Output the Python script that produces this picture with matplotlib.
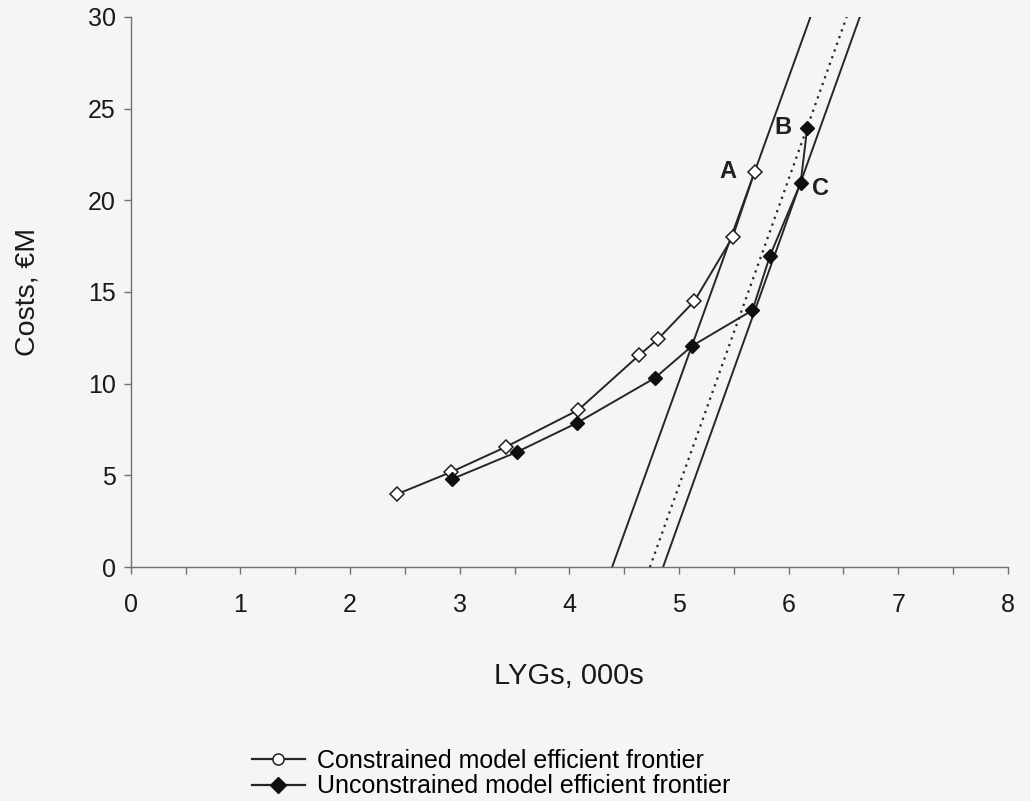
import numpy as np
import matplotlib.pyplot as plt
from matplotlib.lines import Line2D

plt.rcParams['font.family'] = ['Liberation Sans', 'DejaVu Sans']

# efficient frontiers (LYGs in 000s, costs in EUR million)
constrained_lyg = [2.43, 2.92, 3.42, 4.08, 4.64, 4.81, 5.14, 5.49, 5.69]
constrained_cost = [3.98, 5.18, 6.55, 8.56, 11.57, 12.44, 14.5, 18.0, 21.55]

unconstrained_lyg = [2.93, 3.52, 4.07, 4.78, 5.12, 5.67, 5.83, 6.11, 6.17]
unconstrained_cost = [4.8, 6.27, 7.86, 10.31, 12.06, 14.0, 16.97, 20.95, 23.95]

# budget lines: (LYGs at zero cost, LYGs at 30M)
line_left = [4.39, 6.20]
line_dotted = [4.735, 6.53]
line_right = [4.855, 6.65]
line_cost = [0, 30]

# labelled points
point_labels = ['A', 'B', 'C']
point_lyg = [5.69, 6.17, 6.11]
point_cost = [21.55, 23.95, 20.95]

legend_labels = ['Constrained model efficient frontier',
                 'Unconstrained model efficient frontier']

fig = plt.figure(figsize=(10.3, 8.01), dpi=100)
fig.patch.set_facecolor('#f5f5f5')
ax = fig.add_axes([0.127, 0.292, 0.8515, 0.687])
ax.set_facecolor('#f5f5f5')

lc = '#262626'
ax.plot(line_left, line_cost, color=lc, lw=1.4)
ax.plot(line_right, line_cost, color=lc, lw=1.4)
ax.plot(line_dotted, line_cost, color=lc, lw=1.6, ls=(0, (1, 2.2)))

ax.plot(constrained_lyg, constrained_cost, color=lc, lw=1.4, marker='D',
        markersize=7, markerfacecolor='white', markeredgecolor='#202020',
        markeredgewidth=1.1)
ax.plot(unconstrained_lyg, unconstrained_cost, color=lc, lw=1.4, marker='D',
        markersize=7, markerfacecolor='#101010', markeredgecolor='#101010')

offsets = {'A': (-0.32, 0.0), 'B': (-0.30, 0.0), 'C': (0.10, -0.3)}
for lab, x, y in zip(point_labels, point_lyg, point_cost):
    dx, dy = offsets[lab]
    ax.text(x + dx, y + dy, lab, fontsize=17, fontweight='bold',
            color='#202020', va='center', ha='left')

ax.set_xlim(0, 8)
ax.set_ylim(0, 30)
ticks = np.arange(0, 8.01, 0.5)
ax.set_xticks(ticks)
ax.set_xticklabels([str(int(v)) if v == int(v) else '' for v in ticks])
ax.set_yticks(np.arange(0, 31, 5))
for s in ['top', 'right']:
    ax.spines[s].set_visible(False)
for s in ['left', 'bottom']:
    ax.spines[s].set_color('#707070')
    ax.spines[s].set_linewidth(1.0)
ax.tick_params(axis='both', colors='#707070', labelcolor='#1a1a1a',
               labelsize=18, length=5, width=1.0, direction='out')
ax.tick_params(axis='x', pad=14)
ax.tick_params(axis='y', pad=6)

ax.set_xlabel('LYGs, 000s', fontsize=21, color='#1a1a1a', labelpad=32)
ax.set_ylabel('Costs, \u20acM', fontsize=20.5, color='#1a1a1a', labelpad=34)

# legend keys: open circle and filled diamond on a short line
handles = [
    Line2D([], [], color=lc, lw=1.6, marker='o', markersize=8,
           markerfacecolor='white', markeredgecolor='#202020', markeredgewidth=1.1),
    Line2D([], [], color=lc, lw=1.6, marker='D', markersize=8,
           markerfacecolor='#101010', markeredgecolor='#101010'),
]
fig.legend(handles, legend_labels, loc='center', bbox_to_anchor=(0.477, 0.034),
           frameon=False, fontsize=18, handlelength=2.1, handletextpad=0.5,
           labelspacing=0.05)

fig.savefig('out.png', dpi=100, facecolor=fig.get_facecolor())
